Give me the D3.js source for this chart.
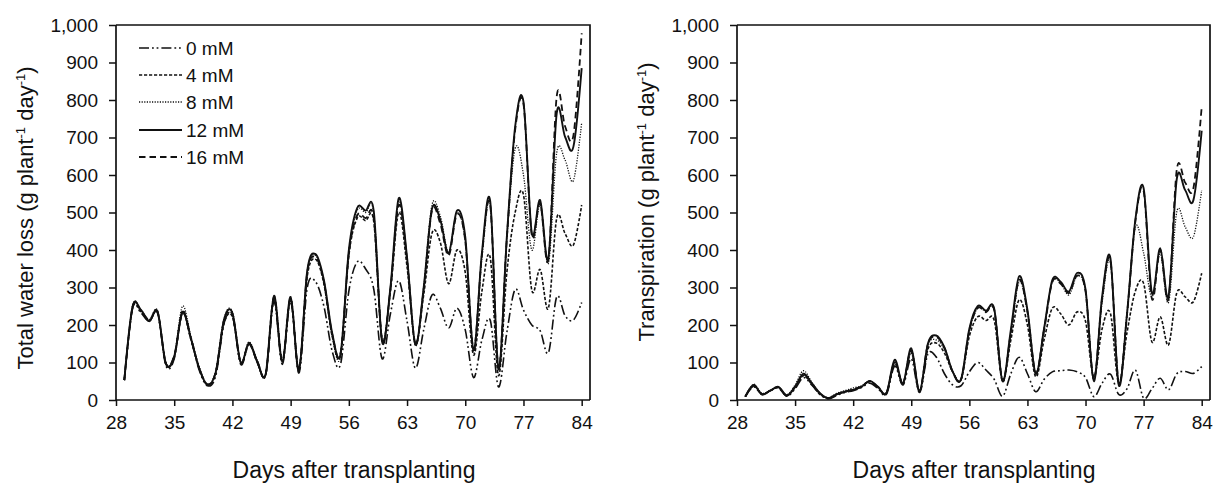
<!DOCTYPE html>
<html><head><meta charset="utf-8">
<script src="https://cdn.jsdelivr.net/npm/d3@7"></script>
<style>
body{margin:0;background:#fff;}
svg{display:block;font-family:"Liberation Sans",Arial,sans-serif;}
</style></head>
<body><svg id="c" width="1217" height="484"></svg>
<script>
// ---------- data ----------
const days = d3.range(29, 85); // 29..84
const xTicks = [28, 35, 42, 49, 56, 63, 70, 77, 84];
const yTicks = [0,100,200,300,400,500,600,700,800,900,1000];
const seriesNames = ["0 mM", "4 mM", "8 mM", "12 mM", "16 mM"];

// Total water loss (g plant-1 day-1)
const loss0 = [53,245,232,210,232,92,110,238,165,80,38,65,205,225,95,148,100,66,262,95,262,72,300,315,250,130,95,290,368,350,295,110,230,318,210,85,187,280,245,192,245,187,60,160,213,35,180,295,240,200,185,126,275,225,213,260];
const loss4 = [53,245,235,210,232,97,115,232,162,85,40,72,205,222,100,150,100,68,270,100,268,80,330,375,310,170,120,385,485,478,475,160,290,500,355,150,280,445,420,310,400,340,120,290,380,65,340,500,547,293,348,245,485,444,413,520];
const loss8 = [53,252,240,215,238,100,120,250,170,88,42,78,218,235,102,155,105,70,272,108,270,85,340,385,315,170,115,395,505,500,498,165,295,530,370,145,300,520,490,395,500,420,125,380,520,80,430,670,600,400,520,365,660,640,585,740];
const loss12 = [53,250,240,210,236,97,115,235,165,85,40,75,215,232,100,153,102,69,278,102,275,78,345,389,320,178,122,400,512,505,503,155,300,538,380,148,300,510,480,391,505,435,133,392,530,82,435,729,795,445,533,378,765,702,675,885];
const loss16 = [53,248,238,212,235,98,118,232,165,85,42,75,212,228,100,150,100,68,275,105,272,82,340,380,315,175,125,390,492,485,483,160,295,520,375,150,295,505,470,385,495,425,135,385,520,85,430,720,790,440,525,375,810,730,705,978];

// Transpiration (g plant-1 day-1)
const tr0 = [9,35,15,25,32,10,30,60,40,15,3,12,20,25,33,45,30,15,90,40,110,20,122,115,70,40,38,75,100,80,55,10,70,114,70,22,55,75,78,80,75,60,9,45,69,15,30,80,5,30,58,27,70,76,71,89];
const tr4 = [9,38,15,25,33,12,35,65,42,15,5,15,22,28,35,50,33,18,100,42,130,22,135,152,125,75,55,170,222,212,212,50,160,267,200,62,160,245,230,200,235,210,62,190,231,44,180,290,311,155,222,147,286,275,262,338];
const tr8 = [9,42,18,25,33,14,40,78,48,18,6,18,25,32,38,50,35,20,95,45,125,25,145,160,135,75,55,185,245,236,238,55,175,315,235,72,190,315,312,280,330,290,55,260,365,45,230,460,392,275,390,260,502,462,435,560];
const tr12 = [9,40,15,25,35,12,35,70,45,18,5,15,22,27,35,51,35,18,107,44,138,22,150,172,140,75,55,190,250,238,243,50,187,330,240,70,190,320,315,289,339,295,50,276,378,40,230,480,565,285,405,276,590,560,533,718];
const tr16 = [9,38,16,25,34,12,35,68,44,17,5,15,22,28,36,50,34,18,100,45,132,24,148,168,138,75,55,185,245,234,240,52,180,320,235,72,185,315,310,285,332,290,55,270,372,45,228,475,558,270,400,270,615,580,565,782];

// ---------- drawing ----------
const svg = d3.select("#c");
const ink = "#111";
const styles = [
  {dash:"10,3,1.8,2.8,1.8,3", w:1.6},
  {dash:"3.2,1.8", w:1.6},
  {dash:"1.2,1.4", w:1.3},
  {dash:null, w:1.9},
  {dash:"6.5,4", w:1.8}
];

const panels = [
  {x0:116, x1:590, data:[loss0,loss4,loss8,loss12,loss16],
   title:["Total water loss (g plant","-1"," day","-1",")"], tx:25, ty:218, xtitle:354, legend:true, id:"a"},
  {x0:737, x1:1210, data:[tr0,tr4,tr8,tr12,tr16],
   title:["Transpiration (g plant","-1"," day","-1",")"], tx:646, ty:202, xtitle:974, legend:false, id:"b"}
];
const yTop = 25, yBot = 400;
const fTick = 19, fTitle = 23, fYTitle = 22;

panels.forEach(p => {
  const x = d3.scaleLinear().domain([28, 85]).range([p.x0, p.x1]);
  const y = d3.scaleLinear().domain([0, 1000]).range([yBot, yTop]);
  const g = svg.append("g");

  g.append("clipPath").attr("id","clip"+p.id).append("rect")
    .attr("x", p.x0).attr("y", yTop).attr("width", p.x1-p.x0).attr("height", yBot-yTop);

  // box top & right
  g.append("path").attr("d", `M${p.x0},${yTop}H${p.x1}V${yBot}`)
    .attr("fill","none").attr("stroke",ink).attr("stroke-width",1.7);

  const ya = g.append("g").attr("transform",`translate(${p.x0},0)`)
    .call(d3.axisLeft(y).tickValues(yTicks).tickSize(7).tickPadding(11).tickFormat(d3.format(",")));
  const xa = g.append("g").attr("transform",`translate(0,${yBot})`)
    .call(d3.axisBottom(x).tickValues(xTicks).tickSize(6).tickPadding(10).tickFormat(d3.format("d")));
  [ya, xa].forEach(a => {
    a.select(".domain").attr("stroke",ink).attr("stroke-width",1.7);
    a.selectAll(".tick line").attr("stroke",ink).attr("stroke-width",1.5);
    a.selectAll("text").attr("fill",ink).attr("font-size",fTick).attr("font-family","Liberation Sans, Arial, sans-serif");
  });
  xa.select(".domain").attr("d", `M${p.x0},0H${p.x1}`);
  ya.select(".domain").attr("d", `M0,${yTop}V${yBot}`);

  const line = d3.line().x((d,i)=>x(days[i])).y(d=>y(d)).curve(d3.curveCardinal.tension(0));
  const lg = g.append("g").attr("clip-path",`url(#clip${p.id})`);
  p.data.forEach((s, k) => {
    lg.append("path").datum(s).attr("d", line)
      .attr("fill","none").attr("stroke",ink)
      .attr("stroke-width",styles[k].w)
      .attr("stroke-dasharray",styles[k].dash)
      .attr("stroke-linejoin","round");
  });

  // y title
  const t = g.append("text")
    .attr("transform",`translate(${p.tx},${p.ty}) rotate(-90)`)
    .attr("text-anchor","middle").attr("font-size",fYTitle).attr("fill",ink)
    .attr("dy","0.35em");
  p.title.forEach((s,i) => {
    const ts = t.append("tspan").text(s);
    if (i===1 || i===3) ts.attr("font-size",13).attr("dy","-0.6em");
    if (i===2 || i===4) ts.attr("dy","0.37em");
  });

  // x title
  g.append("text").attr("x", p.xtitle).attr("y", 478)
    .attr("text-anchor","middle").attr("font-size",fTitle).attr("fill",ink)
    .text("Days after transplanting");

  if (p.legend) {
    const legY = [48, 75, 102, 130, 157];
    seriesNames.forEach((n,k) => {
      g.append("line").attr("x1",139).attr("x2",182).attr("y1",legY[k]).attr("y2",legY[k])
        .attr("stroke",ink).attr("stroke-width",styles[k].w).attr("stroke-dasharray",styles[k].dash);
      g.append("text").attr("x",186).attr("y",legY[k]).attr("dy","0.35em")
        .attr("font-size",fTick).attr("fill",ink).text(n);
    });
  }
});
</script></body></html>
